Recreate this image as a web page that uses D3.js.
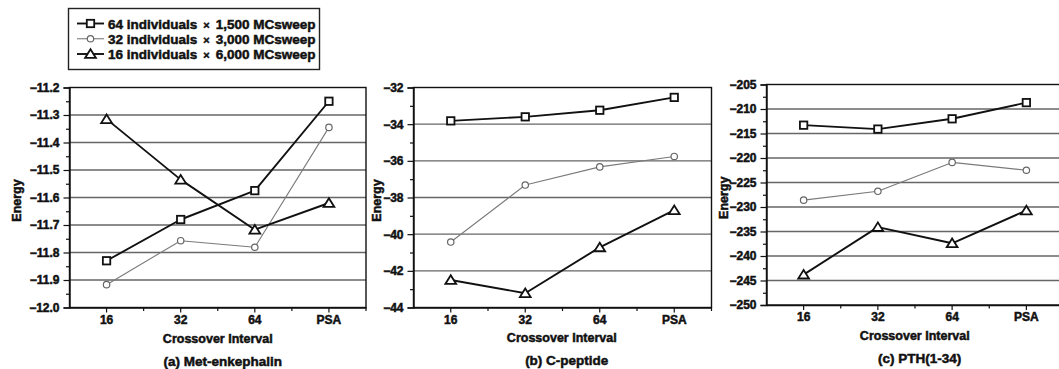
<!DOCTYPE html>
<html>
<head>
<meta charset="utf-8">
<script src="https://cdn.jsdelivr.net/npm/d3@7"></script>
<style>
  html, body { margin: 0; padding: 0; background: #fff; }
  svg { display: block; }
  svg text { font-family: "Liberation Sans", Arial, Helvetica, sans-serif; font-weight: 700; }
</style>
</head>
<body>
<svg id="chart" width="1059" height="369"></svg>
<script>
// ---------- data ----------
const categories = ["16", "32", "64", "PSA"];
const seriesNames = [
  "64 individuals \u00d7 1,500 MCsweep",
  "32 individuals \u00d7 3,000 MCsweep",
  "16 individuals \u00d7 6,000 MCsweep"
];
const panelTitles = ["(a) Met-enkephalin", "(b) C-peptide", "(c) PTH(1-34)"];

const metEnk64 = [-11.83, -11.68, -11.575, -11.25];
const metEnk32 = [-11.917, -11.757, -11.781, -11.345];
const metEnk16 = [-11.315, -11.535, -11.717, -11.62];

const cPep64 = [-33.82, -33.6, -33.24, -32.54];
const cPep32 = [-40.43, -37.32, -36.33, -35.76];
const cPep16 = [-42.5, -43.22, -40.72, -38.69];

const pth64 = [-213.3, -214.1, -212.0, -208.7];
const pth32 = [-228.6, -226.8, -220.9, -222.5];
const pth16 = [-243.8, -234.1, -237.4, -230.7];

const metEnkTicks = [-12.0, -11.9, -11.8, -11.7, -11.6, -11.5, -11.4, -11.3, -11.2];
const cPepTicks = [-44, -42, -40, -38, -36, -34, -32];
const pthTicks = [-250, -245, -240, -235, -230, -225, -220, -215, -210, -205];

// ---------- layout ----------
const svg = d3.select("#chart");
const panels = [
  { title: panelTitles[0], series: [metEnk64, metEnk32, metEnk16], ticks: metEnkTicks, minorStep: 0.05, fmt: d3.format(".1f"),
    left: 69.5, width: 296.5, top: 87.5, height: 220, dy: 0, energyX: 16 },
  { title: panelTitles[1], series: [cPep64, cPep32, cPep16], ticks: cPepTicks, minorStep: 1, fmt: d3.format("d"),
    left: 413.5, width: 298, top: 87.5, height: 220, dy: -1, energyX: 376 },
  { title: panelTitles[2], series: [pth64, pth32, pth16], ticks: pthTicks, minorStep: 2.5, fmt: d3.format("d"),
    left: 766.5, width: 297, top: 84.5, height: 220.5, dy: -3, energyX: 723 }
];

const styles = [
  { stroke: "#111", width: 1.9, marker: "square", mstroke: "#111" },
  { stroke: "#7a7a7a", width: 1.1, marker: "circle", mstroke: "#666" },
  { stroke: "#111", width: 1.9, marker: "triangle", mstroke: "#111" }
];

function boldText(sel, size) {
  return sel.attr("font-size", size).attr("font-weight", "700")
    .attr("font-family", "'Liberation Sans', Arial, Helvetica, sans-serif")
    .attr("fill", "#111").attr("stroke", "#111").attr("stroke-width", 0.5);
}

function drawMarker(g, type, x, y, st) {
  if (type === "square") {
    g.append("rect").attr("x", x - 3.7).attr("y", y - 3.7).attr("width", 7.4).attr("height", 7.4)
      .attr("fill", "#fff").attr("stroke", st.mstroke).attr("stroke-width", 1.8);
  } else if (type === "circle") {
    g.append("circle").attr("cx", x).attr("cy", y).attr("r", 3.2)
      .attr("fill", "#fff").attr("stroke", st.mstroke).attr("stroke-width", 1.2);
  } else {
    const p = d3.path();
    p.moveTo(x, y - 4.7); p.lineTo(x + 5.4, y + 3.9); p.lineTo(x - 5.4, y + 3.9); p.closePath();
    g.append("path").attr("d", p.toString()).attr("fill", "#fff")
      .attr("stroke", st.mstroke).attr("stroke-width", 1.8).attr("stroke-linejoin", "miter");
  }
}

panels.forEach(P => {
  const g = svg.append("g");
  const yMin = d3.min(P.ticks), yMax = d3.max(P.ticks);
  const x = d3.scaleBand().domain(categories).range([P.left, P.left + P.width]);
  const y = d3.scaleLinear().domain([yMin, yMax]).range([P.top + P.height, P.top]);
  const xc = c => x(c) + x.bandwidth() / 2;

  // grid lines
  g.selectAll("line.grid").data(P.ticks.slice(1, -1)).join("line")
    .attr("x1", P.left).attr("x2", Math.min(P.left + P.width, 1059))
    .attr("y1", d => y(d)).attr("y2", d => y(d))
    .attr("stroke", "#666").attr("stroke-width", 1.3);

  // frame
  g.append("rect").attr("x", P.left).attr("y", P.top).attr("width", P.width).attr("height", P.height)
    .attr("fill", "none").attr("stroke", "#111").attr("stroke-width", 1.4);

  // y axis (major)
  const yAxis = d3.axisLeft(y).tickValues(P.ticks).tickFormat(P.fmt).tickSize(6).tickPadding(4);
  const ya = g.append("g").attr("transform", `translate(${P.left},0)`).call(yAxis);
  ya.attr("font-family", null).attr("font-size", null);
  ya.select(".domain").attr("stroke", "#111").attr("stroke-width", 1.4);
  ya.selectAll(".tick line").attr("stroke", "#111").attr("stroke-width", 1.2);
  boldText(ya.selectAll("text"), 12);

  // y minor ticks
  const minor = d3.range(yMin + P.minorStep, yMax, P.minorStep * 2);
  const yMinor = d3.axisLeft(y).tickValues(minor).tickSize(3.5).tickFormat("");
  const ym = g.append("g").attr("transform", `translate(${P.left},0)`).call(yMinor);
  ym.select(".domain").remove();
  ym.selectAll(".tick line").attr("stroke", "#111").attr("stroke-width", 1.2);

  // x axis
  const xAxis = d3.axisBottom(x).tickSize(5).tickPadding(4).tickSizeOuter(0);
  const xa = g.append("g").attr("transform", `translate(0,${P.top + P.height})`).call(xAxis);
  xa.attr("font-family", null).attr("font-size", null);
  xa.select(".domain").attr("stroke", "#111").attr("stroke-width", 1.4);
  xa.selectAll(".tick line").attr("stroke", "#111").attr("stroke-width", 1.2);
  boldText(xa.selectAll("text"), 12).attr("dy", "0.62em");
  // band-boundary ticks
  const bounds = categories.slice(1).map(c => x(c)).concat([P.left + P.width]);
  g.selectAll("line.btick").data(bounds).join("line")
    .attr("x1", d => d).attr("x2", d => d)
    .attr("y1", P.top + P.height).attr("y2", P.top + P.height + 3.5)
    .attr("stroke", "#111").attr("stroke-width", 1.2);

  // titles
  const tcx = P.left + 296.5 / 2;
  boldText(g.append("text"), 12.5).attr("x", tcx).attr("y", 343 + P.dy).attr("text-anchor", "middle")
    .text("Crossover Interval");
  boldText(g.append("text"), 13.5).attr("x", tcx + 5).attr("y", 366 + P.dy).attr("text-anchor", "middle")
    .text(P.title);
  const ey = P.top + P.height / 2 + 3;
  boldText(g.append("text"), 12.5).attr("transform", `translate(${P.energyX + 4.5},${ey}) rotate(-90)`)
    .attr("text-anchor", "middle").text("Energy");

  // series lines + markers
  P.series.forEach((vals, si) => {
    const st = styles[si];
    const line = d3.line().x((d, i) => xc(categories[i])).y(d => y(d));
    g.append("path").attr("d", line(vals)).attr("fill", "none")
      .attr("stroke", st.stroke).attr("stroke-width", st.width).attr("stroke-linejoin", "round");
  });
  [1, 0, 2].forEach(si => {
    const st = styles[si];
    P.series[si].forEach((v, i) => drawMarker(g, st.marker, xc(categories[i]), y(v), st));
  });
});

// ---------- legend ----------
const leg = svg.append("g");
leg.append("rect").attr("x", 68.5).attr("y", 8.5).attr("width", 251).attr("height", 61)
  .attr("fill", "#fff").attr("stroke", "#222").attr("stroke-width", 1.4);
const legRowY = d3.scalePoint().domain(seriesNames).range([23.5, 54]);
seriesNames.forEach((name, i) => {
  const st = styles[i];
  const ly = legRowY(name);
  leg.append("line").attr("x1", 77).attr("x2", 104).attr("y1", ly).attr("y2", ly)
    .attr("stroke", st.stroke).attr("stroke-width", st.width);
  drawMarker(leg, st.marker, 90.5, ly, st);
  const parts = name.split("\u00d7");
  const t = boldText(leg.append("text"), 13.5).attr("x", 108).attr("y", ly + 5);
  t.append("tspan").text(parts[0].trimEnd());
  t.append("tspan").attr("dx", 6).attr("font-size", 11).text("\u00d7");
  t.append("tspan").attr("dx", 6).text(parts[1].trimStart());
});
</script>
</body>
</html>
